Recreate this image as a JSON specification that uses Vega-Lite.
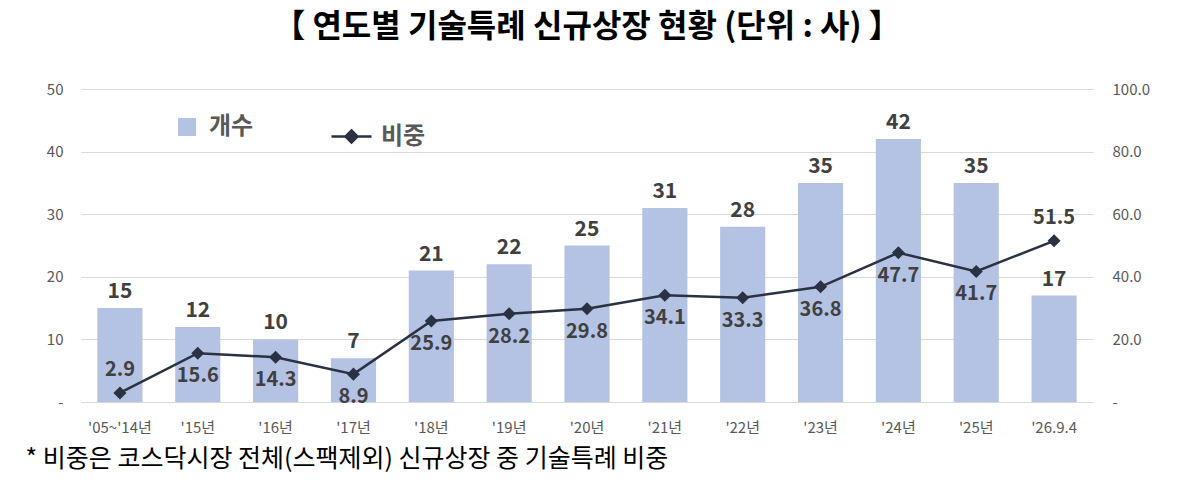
{
  "$schema": "https://vega.github.io/schema/vega-lite/v6.json",
  "autosize": {"type": "none"},
  "width": 1012,
  "height": 313,
  "padding": {"left": 81, "top": 89, "right": 107, "bottom": 78},
  "background": "white",
  "title": {
    "text": "【 연도별 기술특례 신규상장 현황 (단위 : 사) 】",
    "fontSize": 32,
    "fontWeight": "bold",
    "color": "#000000",
    "anchor": "middle",
    "offset": 38
  },
  "data": {
    "values": [
      {"year": "'05~'14년", "count": 15, "ratio": 2.9},
      {"year": "'15년", "count": 12, "ratio": 15.6},
      {"year": "'16년", "count": 10, "ratio": 14.3},
      {"year": "'17년", "count": 7, "ratio": 8.9},
      {"year": "'18년", "count": 21, "ratio": 25.9},
      {"year": "'19년", "count": 22, "ratio": 28.2},
      {"year": "'20년", "count": 25, "ratio": 29.8},
      {"year": "'21년", "count": 31, "ratio": 34.1},
      {"year": "'22년", "count": 28, "ratio": 33.3},
      {"year": "'23년", "count": 35, "ratio": 36.8},
      {"year": "'24년", "count": 42, "ratio": 47.7},
      {"year": "'25년", "count": 35, "ratio": 41.7},
      {"year": "'26.9.4", "count": 17, "ratio": 51.5}
    ]
  },
  "encoding": {
    "x": {
      "field": "year",
      "type": "nominal",
      "sort": null,
      "scale": {"paddingInner": 0.42, "paddingOuter": 0.21},
      "axis": {
        "labelAngle": 0,
        "labelFontSize": 15,
        "labelColor": "#595959",
        "labelPadding": 18,
        "ticks": false,
        "domain": false,
        "title": "* 비중은 코스닥시장 전체(스팩제외) 신규상장 중 기술특례 비중",
        "titleAnchor": "start",
        "titleAlign": "left",
        "titleX": -56,
        "titleY": 56,
        "titleBaseline": "middle",
        "titleFontSize": 25,
        "titleFontWeight": "normal",
        "titleColor": "#000000"
      }
    }
  },
  "layer": [
    {
      "encoding": {
        "y": {
          "field": "count",
          "type": "quantitative",
          "scale": {"domain": [0, 50]},
          "axis": {
            "title": null,
            "values": [0, 10, 20, 30, 40, 50],
            "labelExpr": "datum.value == 0 ? '-' : datum.label",
            "labelFontSize": 15,
            "labelColor": "#595959",
            "labelPadding": 18,
            "domain": false,
            "ticks": false,
            "grid": true,
            "gridColor": "#d9d9d9"
          }
        }
      },
      "layer": [
        {
          "mark": {"type": "bar"},
          "encoding": {
            "color": {
              "datum": "개수",
              "type": "nominal",
              "scale": {"range": ["#b4c2e3"]},
              "legend": {
                "orient": "none",
                "legendX": 94,
                "legendY": 26,
                "title": null,
                "symbolType": "square",
                "symbolSize": 324,
                "symbolStrokeWidth": 0,
                "labelFontSize": 24,
                "labelFontWeight": "bold",
                "labelColor": "#595959",
                "labelOffset": 10
              }
            }
          }
        },
        {
          "mark": {"type": "text", "baseline": "bottom", "dy": -6, "fontSize": 21, "fontWeight": "bold", "color": "#404040"},
          "encoding": {"text": {"field": "count", "type": "quantitative"}}
        }
      ]
    },
    {
      "encoding": {
        "y": {
          "field": "ratio",
          "type": "quantitative",
          "scale": {"domain": [0, 100]},
          "axis": {
            "orient": "right",
            "title": null,
            "values": [0, 20, 40, 60, 80, 100],
            "format": ".1f",
            "labelExpr": "datum.value == 0 ? '-' : datum.label",
            "labelFontSize": 15,
            "labelColor": "#595959",
            "labelPadding": 19,
            "domain": false,
            "ticks": false,
            "grid": false
          }
        }
      },
      "layer": [
        {
          "mark": {"type": "line", "strokeWidth": 2.5},
          "encoding": {
            "stroke": {
              "datum": "비중",
              "type": "nominal",
              "scale": {"range": ["#2a3142"]},
              "legend": {
                "orient": "none",
                "legendX": 249,
                "legendY": 26,
                "title": null,
                "symbolType": "M-1,0H1M0,-0.3L0.3,0L0,0.3L-0.3,0Z",
                "symbolSize": 1600,
                "symbolStrokeWidth": 2.5,
                "symbolFillColor": "#2a3142",
                "labelFontSize": 24,
                "labelFontWeight": "bold",
                "labelColor": "#595959",
                "labelOffset": 8
              }
            }
          }
        },
        {
          "mark": {"type": "point", "shape": "diamond", "filled": true, "size": 170, "opacity": 1, "color": "#2a3142"}
        },
        {
          "transform": [{"filter": {"not": {"field": "year", "oneOf": ["'05~'14년", "'26.9.4"]}}}],
          "mark": {"type": "text", "baseline": "top", "dy": 13, "fontSize": 20, "fontWeight": "bold", "color": "#404040"},
          "encoding": {"text": {"field": "ratio", "type": "quantitative", "format": ".1f"}}
        },
        {
          "transform": [{"filter": {"field": "year", "oneOf": ["'05~'14년", "'26.9.4"]}}],
          "mark": {"type": "text", "baseline": "bottom", "dy": -13, "fontSize": 20, "fontWeight": "bold", "color": "#404040"},
          "encoding": {"text": {"field": "ratio", "type": "quantitative", "format": ".1f"}}
        }
      ]
    }
  ],
  "resolve": {"scale": {"y": "independent"}},
  "config": {
    "font": "Noto Sans CJK KR",
    "view": {"stroke": null}
  }
}
